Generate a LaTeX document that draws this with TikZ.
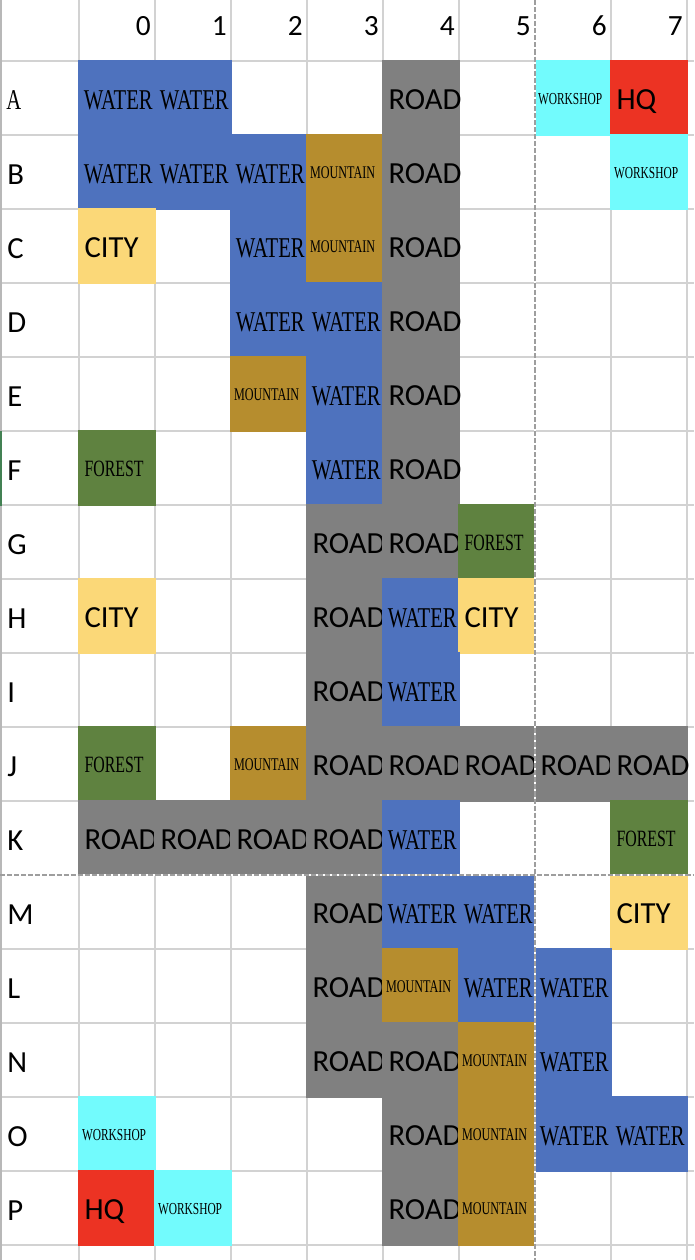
\documentclass[tikz,border=0pt]{standalone}
\usepackage{fontspec}
\setmainfont{Carlito}
\newfontfamily\condfont[FakeStretch=0.68]{Liberation Serif}
\newfontfamily\condwide[FakeStretch=0.72]{Liberation Serif}
\newcommand{\sansbig}{\fontsize{23}{26}\selectfont}
\newcommand{\hdrfont}{\fontsize{22}{26}\selectfont}
\newcommand{\condbig}{\condwide\fontsize{21.5}{24}\selectfont}
\newcommand{\condforest}{\condfont\fontsize{17.5}{20}\selectfont}
\newcommand{\condmount}{\condfont\fontsize{13.4}{16}\selectfont}
\newcommand{\condshop}{\condfont\fontsize{12.6}{15}\selectfont}
\definecolor{cwater}{HTML}{4E72BE}
\definecolor{croad}{HTML}{808080}
\definecolor{cmount}{HTML}{B68D2E}
\definecolor{cforest}{HTML}{5F8240}
\definecolor{ccity}{HTML}{FBD878}
\definecolor{cshop}{HTML}{72FBFD}
\definecolor{chq}{HTML}{EC3323}
\definecolor{cgrid}{HTML}{D2D2D2}
\tikzset{
  cellbox/.style={anchor=north west,minimum width=58.5pt,minimum height=57pt,
    outer sep=0pt,inner ysep=0pt,align=left,text depth=0pt},
  sepwide/.style={inner xsep=4.9pt,text width=48.7pt},
  sepnarrow/.style={inner xsep=3pt,text width=52.5pt},
  tWater/.style={cellbox,inner xsep=4.4pt,text width=49.7pt,fill=cwater,font=\condbig,text height=16.7pt},
  tRoad/.style={cellbox,sepwide,fill=croad,font=\sansbig,text height=16.5pt},
  tMount/.style={cellbox,sepnarrow,fill=cmount,font=\condmount,text height=9.5pt},
  tForest/.style={cellbox,sepwide,fill=cforest,font=\condforest,text height=12pt},
  tCity/.style={cellbox,sepwide,fill=ccity,font=\sansbig,text height=16.5pt},
  tShop/.style={cellbox,sepnarrow,fill=cshop,font=\condshop,text height=9pt},
  tHq/.style={cellbox,sepwide,fill=chq,font=\sansbig,text height=17pt},
  gridline/.style={draw=cgrid,line width=1.5pt},
  dashline/.style={draw=black!38,line width=1.5pt,dash pattern=on 3.8pt off 1.5pt},
  whiteline/.style={draw=white,line width=1.5pt},
  hdr/.style={anchor=east,inner sep=0pt,font=\hdrfont},
  rowhdr/.style={anchor=west,inner sep=0pt,font=\sansbig},
}
% \cell{name}{column}{row top in px}{style}{text}
\newcommand{\cell}[5]{\node[#4] (#1) at ({78+76*#2},#3) {\mbox{#5}};}
\begin{document}
\begin{tikzpicture}[x=0.75pt,y=-0.75pt]
\useasboundingbox (0,0) rectangle (694,1260);
\fill[white] (0,0) rectangle (694,1260);
% grid
\foreach \gx in {79,155,231,307,383,459,611,687}
  \draw[gridline] (\gx,0) -- (\gx,1260);
\foreach \gy in {61,135,209,283,357,431,505,579,653,727,801,949,1023,1097,1171,1245}
  \draw[gridline] (0,\gy) -- (694,\gy);
\draw[draw=black!28,line width=1.5pt] (1,0) -- (1,1260);
\fill[cforest!70!teal] (0,431) rectangle (2,506);
% headers
\foreach \c/\hx in {0/151,1/227,2/303,3/379,4/455,5/531,6/607,7/683}
  \node[hdr] (h\c) at (\hx,26) {\c};
\node[rowhdr,font=\condbig] (rA) at (6,100) {A};
\foreach \r/\ry in {B/175,C/249,D/323,E/397,F/471,G/545,H/619,I/693,J/767,K/841,M/915,L/989,N/1063,O/1137,P/1211}
  \node[rowhdr] (r\r) at (7,\ry) {\r};
% row A
\cell{A0}{0}{60}{tWater}{WATER}
\cell{A1}{1}{60}{tWater}{WATER}
\cell{A4}{4}{60}{tRoad}{ROAD}
\cell{A6}{6}{60}{tShop}{WORKSHOP}
\cell{A7}{7}{60}{tHq}{HQ}
% row B
\cell{B0}{0}{134}{tWater}{WATER}
\cell{B1}{1}{134}{tWater}{WATER}
\cell{B2}{2}{134}{tWater}{WATER}
\cell{B3}{3}{134}{tMount}{MOUNTAIN}
\cell{B4}{4}{134}{tRoad}{ROAD}
\cell{B7}{7}{134}{tShop}{WORKSHOP}
% row C
\cell{C0}{0}{208}{tCity}{CITY}
\cell{C2}{2}{208}{tWater}{WATER}
\cell{C3}{3}{208}{tMount}{MOUNTAIN}
\cell{C4}{4}{208}{tRoad}{ROAD}
% row D
\cell{D2}{2}{282}{tWater}{WATER}
\cell{D3}{3}{282}{tWater}{WATER}
\cell{D4}{4}{282}{tRoad}{ROAD}
% row E
\cell{E2}{2}{356}{tMount}{MOUNTAIN}
\cell{E3}{3}{356}{tWater}{WATER}
\cell{E4}{4}{356}{tRoad}{ROAD}
% row F
\cell{F0}{0}{430}{tForest}{FOREST}
\cell{F3}{3}{430}{tWater}{WATER}
\cell{F4}{4}{430}{tRoad}{ROAD}
% row G
\cell{G3}{3}{504}{tRoad}{ROAD}
\cell{G4}{4}{504}{tRoad}{ROAD}
\cell{G5}{5}{504}{tForest}{FOREST}
% row H
\cell{H0}{0}{578}{tCity}{CITY}
\cell{H3}{3}{578}{tRoad}{ROAD}
\cell{H4}{4}{578}{tWater}{WATER}
\cell{H5}{5}{578}{tCity}{CITY}
% row I
\cell{I3}{3}{652}{tRoad}{ROAD}
\cell{I4}{4}{652}{tWater}{WATER}
% row J
\cell{J0}{0}{726}{tForest}{FOREST}
\cell{J2}{2}{726}{tMount}{MOUNTAIN}
\cell{J3}{3}{726}{tRoad}{ROAD}
\cell{J4}{4}{726}{tRoad}{ROAD}
\cell{J5}{5}{726}{tRoad}{ROAD}
\cell{J6}{6}{726}{tRoad}{ROAD}
\cell{J7}{7}{726}{tRoad}{ROAD}
% row K
\cell{K0}{0}{800}{tRoad}{ROAD}
\cell{K1}{1}{800}{tRoad}{ROAD}
\cell{K2}{2}{800}{tRoad}{ROAD}
\cell{K3}{3}{800}{tRoad}{ROAD}
\cell{K4}{4}{800}{tWater}{WATER}
\cell{K7}{7}{800}{tForest}{FOREST}
% row M
\cell{M3}{3}{874}{tRoad}{ROAD}
\cell{M4}{4}{874}{tWater}{WATER}
\cell{M5}{5}{874}{tWater}{WATER}
\cell{M7}{7}{874}{tCity}{CITY}
% row L
\cell{L3}{3}{948}{tRoad}{ROAD}
\cell{L4}{4}{948}{tMount}{MOUNTAIN}
\cell{L5}{5}{948}{tWater}{WATER}
\cell{L6}{6}{948}{tWater}{WATER}
% row N
\cell{N3}{3}{1022}{tRoad}{ROAD}
\cell{N4}{4}{1022}{tRoad}{ROAD}
\cell{N5}{5}{1022}{tMount}{MOUNTAIN}
\cell{N6}{6}{1022}{tWater}{WATER}
% row O
\cell{O0}{0}{1096}{tShop}{WORKSHOP}
\cell{O4}{4}{1096}{tRoad}{ROAD}
\cell{O5}{5}{1096}{tMount}{MOUNTAIN}
\cell{O6}{6}{1096}{tWater}{WATER}
\cell{O7}{7}{1096}{tWater}{WATER}
% row P
\cell{P0}{0}{1170}{tHq}{HQ}
\cell{P1}{1}{1170}{tShop}{WORKSHOP}
\cell{P4}{4}{1170}{tRoad}{ROAD}
\cell{P5}{5}{1170}{tMount}{MOUNTAIN}
% page-break style dashed lines
\draw[whiteline] (535,0) -- (535,1260);
\draw[dashline] (535,0) -- (535,1260);
\draw[whiteline] (0,875) -- (694,875);
\draw[dashline] (0,875) -- (694,875);
\end{tikzpicture}
\end{document}
